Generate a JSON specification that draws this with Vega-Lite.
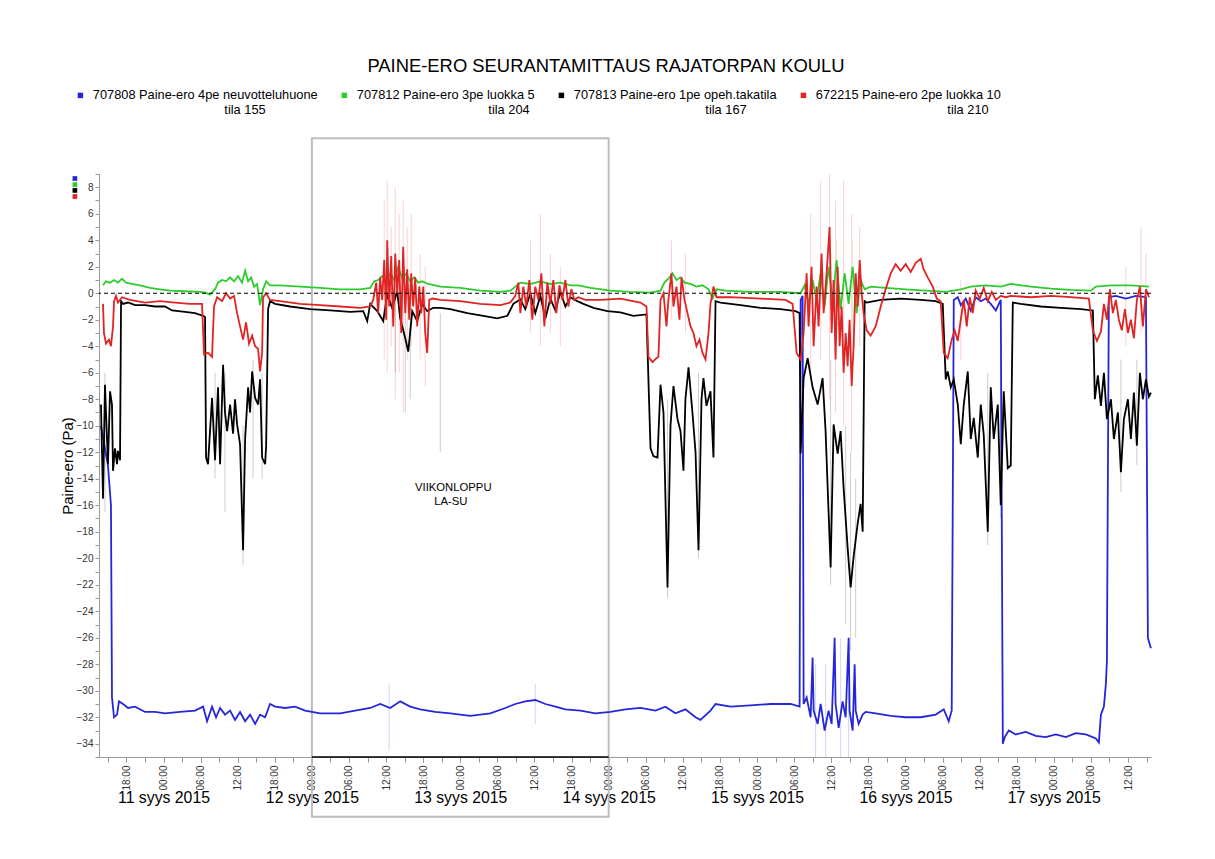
{
"$schema": "https://vega.github.io/schema/vega-lite/v6.json",
"width": 1052, "height": 583,
"autosize": {"type": "none"},
"padding": {"left": 99, "top": 174, "right": 64, "bottom": 102},
"background": "white",
"title": {"text": "PAINE-ERO SEURANTAMITTAUS RAJATORPAN KOULU", "fontSize": 18.4, "fontWeight": "normal", "font": "Liberation Sans", "color": "#000", "anchor": "middle", "dx": -19, "offset": 14},
"config": {"view": {"stroke": null}, "font": "Liberation Sans"},
"datasets": {
"box": [{"t0": "2015-09-12T00:00", "t1": "2015-09-14T00:00", "y0": 11.7, "y1": -39.5, "yb": -35}],
"notes": [{"t": "2015-09-12T22:52", "v": -14.73, "label": "VIIKONLOPPU"}, {"t": "2015-09-12T22:28", "v": -15.76, "label": "LA-SU"}],
"keys": [{"name": "707808 Paine-ero 4pe neuvotteluhuone|\u200b\u00a0\u200b\u00a0\u200b\u00a0\u200b\u00a0\u200b\u00a0\u200b\u00a0\u200b\u00a0\u200b\u00a0\u200b\u00a0\u200b\u00a0\u200b\u00a0\u200b\u00a0\u200b\u00a0\u200b\u00a0\u200b\u00a0\u200b\u00a0\u200b\u00a0\u200b\u00a0\u200b\u00a0\u200b\u00a0\u200b\u00a0\u200b\u00a0\u200b\u00a0\u200b\u00a0\u200b\u00a0\u200b\u00a0\u200b\u00a0\u200b\u00a0\u200b\u00a0\u200b\u00a0\u200b\u00a0\u200b\u00a0\u200b\u00a0\u200b\u00a0\u200b\u00a0\u200b\u00a0\u200b\u00a0tila 155", "t": "2015-09-10T09:40", "v": 8.66}, {"name": "707812 Paine-ero 3pe luokka 5|\u200b\u00a0\u200b\u00a0\u200b\u00a0\u200b\u00a0\u200b\u00a0\u200b\u00a0\u200b\u00a0\u200b\u00a0\u200b\u00a0\u200b\u00a0\u200b\u00a0\u200b\u00a0\u200b\u00a0\u200b\u00a0\u200b\u00a0\u200b\u00a0\u200b\u00a0\u200b\u00a0\u200b\u00a0\u200b\u00a0\u200b\u00a0\u200b\u00a0\u200b\u00a0\u200b\u00a0\u200b\u00a0\u200b\u00a0\u200b\u00a0\u200b\u00a0\u200b\u00a0\u200b\u00a0\u200b\u00a0\u200b\u00a0\u200b\u00a0\u200b\u00a0\u200b\u00a0\u200b\u00a0\u200b\u00a0tila 204", "t": "2015-09-10T09:40", "v": 8.2}, {"name": "707813 Paine-ero 1pe opeh.takatila|\u200b\u00a0\u200b\u00a0\u200b\u00a0\u200b\u00a0\u200b\u00a0\u200b\u00a0\u200b\u00a0\u200b\u00a0\u200b\u00a0\u200b\u00a0\u200b\u00a0\u200b\u00a0\u200b\u00a0\u200b\u00a0\u200b\u00a0\u200b\u00a0\u200b\u00a0\u200b\u00a0\u200b\u00a0\u200b\u00a0\u200b\u00a0\u200b\u00a0\u200b\u00a0\u200b\u00a0\u200b\u00a0\u200b\u00a0\u200b\u00a0\u200b\u00a0\u200b\u00a0\u200b\u00a0\u200b\u00a0\u200b\u00a0\u200b\u00a0\u200b\u00a0\u200b\u00a0\u200b\u00a0\u200b\u00a0tila 167", "t": "2015-09-10T09:40", "v": 7.76}, {"name": "672215 Paine-ero 2pe luokka 10|\u200b\u00a0\u200b\u00a0\u200b\u00a0\u200b\u00a0\u200b\u00a0\u200b\u00a0\u200b\u00a0\u200b\u00a0\u200b\u00a0\u200b\u00a0\u200b\u00a0\u200b\u00a0\u200b\u00a0\u200b\u00a0\u200b\u00a0\u200b\u00a0\u200b\u00a0\u200b\u00a0\u200b\u00a0\u200b\u00a0\u200b\u00a0\u200b\u00a0\u200b\u00a0\u200b\u00a0\u200b\u00a0\u200b\u00a0\u200b\u00a0\u200b\u00a0\u200b\u00a0\u200b\u00a0\u200b\u00a0\u200b\u00a0\u200b\u00a0\u200b\u00a0\u200b\u00a0\u200b\u00a0\u200b\u00a0tila 210", "t": "2015-09-10T09:40", "v": 7.3}],
"spikes": [
{"t":"2015-09-10T14:32","s":"K","lo":-16.5,"hi":-6},{"t":"2015-09-11T08:20","s":"K","lo":-14,"hi":-6},{"t":"2015-09-11T09:57","s":"K","lo":-16.5,"hi":-6},{"t":"2015-09-11T12:52","s":"K","lo":-20.5,"hi":-10},{"t":"2015-09-11T14:29","s":"K","lo":-14,"hi":-5},{"t":"2015-09-11T15:57","s":"K","lo":-14,"hi":-6},{"t":"2015-09-12T13:29","s":"K","lo":-6,"hi":1},{"t":"2015-09-12T15:06","s":"K","lo":-9,"hi":0},{"t":"2015-09-12T15:54","s":"K","lo":-8,"hi":1},{"t":"2015-09-12T20:46","s":"K","lo":-12,"hi":-1.5},{"t":"2015-09-14T09:31","s":"K","lo":-23,"hi":-8},{"t":"2015-09-14T14:32","s":"K","lo":-20,"hi":-6},{"t":"2015-09-15T11:54","s":"K","lo":-22,"hi":-5},{"t":"2015-09-15T14:20","s":"K","lo":-25,"hi":-10},{"t":"2015-09-15T15:08","s":"K","lo":-27,"hi":-12},{"t":"2015-09-15T15:57","s":"K","lo":-26,"hi":-14},{"t":"2015-09-16T13:19","s":"K","lo":-19,"hi":-6},{"t":"2015-09-16T15:25","s":"K","lo":-17,"hi":-5},{"t":"2015-09-17T10:51","s":"K","lo":-15,"hi":-5},{"t":"2015-09-17T13:26","s":"K","lo":-13,"hi":-5},
{"t":"2015-09-12T11:42","s":"R","lo":-5,"hi":7},{"t":"2015-09-12T12:11","s":"R","lo":-6,"hi":8.5},{"t":"2015-09-12T12:50","s":"R","lo":-4,"hi":5},{"t":"2015-09-12T13:29","s":"R","lo":-8,"hi":8},{"t":"2015-09-12T14:07","s":"R","lo":-6,"hi":6},{"t":"2015-09-12T14:46","s":"R","lo":-9,"hi":7},{"t":"2015-09-12T15:25","s":"R","lo":-5,"hi":5},{"t":"2015-09-12T16:04","s":"R","lo":-4,"hi":6},{"t":"2015-09-12T17:31","s":"R","lo":-5,"hi":3},{"t":"2015-09-12T18:20","s":"R","lo":-7,"hi":2},{"t":"2015-09-13T11:20","s":"R","lo":-3,"hi":4},{"t":"2015-09-13T12:57","s":"R","lo":-4,"hi":6},{"t":"2015-09-13T14:34","s":"R","lo":-3,"hi":3},{"t":"2015-09-13T16:11","s":"R","lo":-4,"hi":2},{"t":"2015-09-14T10:09","s":"R","lo":-2,"hi":4},{"t":"2015-09-14T12:25","s":"R","lo":-3,"hi":3},{"t":"2015-09-15T08:40","s":"R","lo":-6,"hi":6},{"t":"2015-09-15T10:17","s":"R","lo":-5,"hi":8.5},{"t":"2015-09-15T11:44","s":"R","lo":-8,"hi":9},{"t":"2015-09-15T12:42","s":"R","lo":-9,"hi":7},{"t":"2015-09-15T14:00","s":"R","lo":-10,"hi":8.5},{"t":"2015-09-15T15:18","s":"R","lo":-12,"hi":6},{"t":"2015-09-15T16:36","s":"R","lo":-4,"hi":5},{"t":"2015-09-16T08:57","s":"R","lo":-5,"hi":1},{"t":"2015-09-17T11:39","s":"R","lo":-4,"hi":2},{"t":"2015-09-17T14:05","s":"R","lo":-3,"hi":5},{"t":"2015-09-17T14:54","s":"R","lo":-4,"hi":3},
{"t":"2015-09-15T12:52","s":"G","lo":-3,"hi":4},{"t":"2015-09-15T15:28","s":"G","lo":-3,"hi":4},
{"t":"2015-09-12T12:30","s":"B","lo":-34.5,"hi":-29.5},{"t":"2015-09-13T12:08","s":"B","lo":-32.5,"hi":-29.5},{"t":"2015-09-15T09:28","s":"B","lo":-35,"hi":-28},{"t":"2015-09-15T11:05","s":"B","lo":-35,"hi":-28},{"t":"2015-09-15T13:31","s":"B","lo":-35,"hi":-26},{"t":"2015-09-15T14:49","s":"B","lo":-35,"hi":-30}
],
"lines": [
{"t":"2015-09-10T13:53","s":"B","v":-10},{"t":"2015-09-10T15:01","s":"B","v":-13},{"t":"2015-09-10T15:30","s":"B","v":-16},{"t":"2015-09-10T15:40","s":"B","v":-30.5},{"t":"2015-09-10T16:00","s":"B","v":-32},{"t":"2015-09-10T16:29","s":"B","v":-31.8},{"t":"2015-09-10T16:48","s":"B","v":-30.8},{"t":"2015-09-10T17:27","s":"B","v":-31},{"t":"2015-09-10T18:16","s":"B","v":-31.3},{"t":"2015-09-10T19:24","s":"B","v":-31.2},{"t":"2015-09-10T21:01","s":"B","v":-31.6},{"t":"2015-09-10T22:38","s":"B","v":-31.6},{"t":"2015-09-11T00:15","s":"B","v":-31.7},{"t":"2015-09-11T02:40","s":"B","v":-31.6},{"t":"2015-09-11T05:06","s":"B","v":-31.5},{"t":"2015-09-11T06:24","s":"B","v":-31.2},{"t":"2015-09-11T07:03","s":"B","v":-32.3},{"t":"2015-09-11T07:51","s":"B","v":-31.2},{"t":"2015-09-11T08:30","s":"B","v":-32},{"t":"2015-09-11T09:09","s":"B","v":-31.3},{"t":"2015-09-11T09:57","s":"B","v":-31.8},{"t":"2015-09-11T10:46","s":"B","v":-31.5},{"t":"2015-09-11T11:34","s":"B","v":-32.2},{"t":"2015-09-11T12:23","s":"B","v":-31.6},{"t":"2015-09-11T13:12","s":"B","v":-32.3},{"t":"2015-09-11T14:00","s":"B","v":-31.8},{"t":"2015-09-11T14:49","s":"B","v":-32.5},{"t":"2015-09-11T15:37","s":"B","v":-31.8},{"t":"2015-09-11T16:26","s":"B","v":-32},{"t":"2015-09-11T17:14","s":"B","v":-31},{"t":"2015-09-11T18:03","s":"B","v":-31.2},{"t":"2015-09-11T19:40","s":"B","v":-31.3},{"t":"2015-09-11T21:17","s":"B","v":-31.2},{"t":"2015-09-11T22:54","s":"B","v":-31.5},{"t":"2015-09-12T01:20","s":"B","v":-31.7},{"t":"2015-09-12T04:34","s":"B","v":-31.7},{"t":"2015-09-12T07:00","s":"B","v":-31.5},{"t":"2015-09-12T09:26","s":"B","v":-31.3},{"t":"2015-09-12T11:03","s":"B","v":-31},{"t":"2015-09-12T12:40","s":"B","v":-31.3},{"t":"2015-09-12T14:17","s":"B","v":-30.8},{"t":"2015-09-12T15:54","s":"B","v":-31.2},{"t":"2015-09-12T17:31","s":"B","v":-31.4},{"t":"2015-09-12T19:57","s":"B","v":-31.6},{"t":"2015-09-12T22:23","s":"B","v":-31.7},{"t":"2015-09-13T01:37","s":"B","v":-31.9},{"t":"2015-09-13T04:51","s":"B","v":-31.7},{"t":"2015-09-13T07:17","s":"B","v":-31.3},{"t":"2015-09-13T08:54","s":"B","v":-31},{"t":"2015-09-13T10:31","s":"B","v":-30.8},{"t":"2015-09-13T12:08","s":"B","v":-30.7},{"t":"2015-09-13T13:46","s":"B","v":-31},{"t":"2015-09-13T15:23","s":"B","v":-31.2},{"t":"2015-09-13T17:00","s":"B","v":-31.4},{"t":"2015-09-13T19:26","s":"B","v":-31.5},{"t":"2015-09-13T21:51","s":"B","v":-31.7},{"t":"2015-09-14T00:17","s":"B","v":-31.6},{"t":"2015-09-14T02:43","s":"B","v":-31.4},{"t":"2015-09-14T05:08","s":"B","v":-31.3},{"t":"2015-09-14T07:34","s":"B","v":-31.5},{"t":"2015-09-14T09:11","s":"B","v":-31.2},{"t":"2015-09-14T10:48","s":"B","v":-31.7},{"t":"2015-09-14T12:25","s":"B","v":-31.4},{"t":"2015-09-14T14:03","s":"B","v":-32},{"t":"2015-09-14T14:51","s":"B","v":-32.2},{"t":"2015-09-14T16:28","s":"B","v":-31.5},{"t":"2015-09-14T17:17","s":"B","v":-31},{"t":"2015-09-14T19:43","s":"B","v":-31.2},{"t":"2015-09-14T22:57","s":"B","v":-31.1},{"t":"2015-09-15T02:11","s":"B","v":-31},{"t":"2015-09-15T05:25","s":"B","v":-31},{"t":"2015-09-15T06:53","s":"B","v":-31.2},{"t":"2015-09-15T07:03","s":"B","v":-0.5},{"t":"2015-09-15T07:22","s":"B","v":-0.2},{"t":"2015-09-15T07:32","s":"B","v":-31},{"t":"2015-09-15T08:01","s":"B","v":-30.5},{"t":"2015-09-15T08:40","s":"B","v":-32},{"t":"2015-09-15T08:59","s":"B","v":-27.5},{"t":"2015-09-15T09:09","s":"B","v":-31.5},{"t":"2015-09-15T09:48","s":"B","v":-32.5},{"t":"2015-09-15T10:17","s":"B","v":-31},{"t":"2015-09-15T10:56","s":"B","v":-33},{"t":"2015-09-15T11:34","s":"B","v":-31.5},{"t":"2015-09-15T12:04","s":"B","v":-32.5},{"t":"2015-09-15T12:33","s":"B","v":-26},{"t":"2015-09-15T12:42","s":"B","v":-31},{"t":"2015-09-15T13:12","s":"B","v":-32.8},{"t":"2015-09-15T13:50","s":"B","v":-30.8},{"t":"2015-09-15T14:20","s":"B","v":-32},{"t":"2015-09-15T14:49","s":"B","v":-26},{"t":"2015-09-15T14:58","s":"B","v":-31.5},{"t":"2015-09-15T15:28","s":"B","v":-33},{"t":"2015-09-15T15:47","s":"B","v":-28},{"t":"2015-09-15T15:57","s":"B","v":-31.5},{"t":"2015-09-15T16:26","s":"B","v":-32.5},{"t":"2015-09-15T17:05","s":"B","v":-31.8},{"t":"2015-09-15T17:34","s":"B","v":-31.6},{"t":"2015-09-15T19:11","s":"B","v":-31.7},{"t":"2015-09-15T21:37","s":"B","v":-31.9},{"t":"2015-09-16T00:02","s":"B","v":-32},{"t":"2015-09-16T02:28","s":"B","v":-32},{"t":"2015-09-16T04:54","s":"B","v":-31.8},{"t":"2015-09-16T06:12","s":"B","v":-31.4},{"t":"2015-09-16T07:00","s":"B","v":-32.3},{"t":"2015-09-16T07:29","s":"B","v":-31.5},{"t":"2015-09-16T07:49","s":"B","v":-0.5},{"t":"2015-09-16T08:28","s":"B","v":-0.3},{"t":"2015-09-16T08:57","s":"B","v":-0.9},{"t":"2015-09-16T09:45","s":"B","v":-0.4},{"t":"2015-09-16T10:34","s":"B","v":-1.3},{"t":"2015-09-16T11:22","s":"B","v":-0.3},{"t":"2015-09-16T12:11","s":"B","v":-0.6},{"t":"2015-09-16T12:59","s":"B","v":-0.4},{"t":"2015-09-16T13:48","s":"B","v":-0.8},{"t":"2015-09-16T14:37","s":"B","v":-1.3},{"t":"2015-09-16T15:25","s":"B","v":-0.5},{"t":"2015-09-16T15:45","s":"B","v":-34},{"t":"2015-09-16T16:04","s":"B","v":-33.5},{"t":"2015-09-16T16:43","s":"B","v":-33},{"t":"2015-09-16T17:51","s":"B","v":-33.3},{"t":"2015-09-16T19:28","s":"B","v":-33.1},{"t":"2015-09-16T21:05","s":"B","v":-33.4},{"t":"2015-09-16T22:42","s":"B","v":-33.5},{"t":"2015-09-17T00:19","s":"B","v":-33.3},{"t":"2015-09-17T01:57","s":"B","v":-33.5},{"t":"2015-09-17T03:34","s":"B","v":-33.2},{"t":"2015-09-17T05:11","s":"B","v":-33.3},{"t":"2015-09-17T06:48","s":"B","v":-33.6},{"t":"2015-09-17T07:17","s":"B","v":-33.9},{"t":"2015-09-17T07:37","s":"B","v":-31.8},{"t":"2015-09-17T08:06","s":"B","v":-31.2},{"t":"2015-09-17T08:25","s":"B","v":-29.5},{"t":"2015-09-17T08:35","s":"B","v":-27.8},{"t":"2015-09-17T08:54","s":"B","v":-0.3},{"t":"2015-09-17T10:02","s":"B","v":-0.2},{"t":"2015-09-17T11:39","s":"B","v":-0.4},{"t":"2015-09-17T13:16","s":"B","v":-0.2},{"t":"2015-09-17T14:54","s":"B","v":-0.3},{"t":"2015-09-17T15:13","s":"B","v":-26},{"t":"2015-09-17T15:42","s":"B","v":-26.8},
{"t":"2015-09-10T13:53","s":"K","v":-8.4},{"t":"2015-09-10T14:13","s":"K","v":-15.5},{"t":"2015-09-10T14:32","s":"K","v":-6.9},{"t":"2015-09-10T14:42","s":"K","v":-9},{"t":"2015-09-10T15:01","s":"K","v":-12.9},{"t":"2015-09-10T15:21","s":"K","v":-7.4},{"t":"2015-09-10T15:40","s":"K","v":-8.4},{"t":"2015-09-10T15:50","s":"K","v":-13.4},{"t":"2015-09-10T16:09","s":"K","v":-11.7},{"t":"2015-09-10T16:29","s":"K","v":-12.9},{"t":"2015-09-10T16:38","s":"K","v":-11.9},{"t":"2015-09-10T16:58","s":"K","v":-12.6},{"t":"2015-09-10T17:08","s":"K","v":-0.6},{"t":"2015-09-10T17:27","s":"K","v":-0.8},{"t":"2015-09-10T18:16","s":"K","v":-0.7},{"t":"2015-09-10T19:24","s":"K","v":-0.9},{"t":"2015-09-10T21:01","s":"K","v":-0.9},{"t":"2015-09-10T22:38","s":"K","v":-1.0},{"t":"2015-09-11T00:15","s":"K","v":-1.0},{"t":"2015-09-11T01:23","s":"K","v":-1.3},{"t":"2015-09-11T03:29","s":"K","v":-1.4},{"t":"2015-09-11T05:06","s":"K","v":-1.5},{"t":"2015-09-11T06:24","s":"K","v":-1.7},{"t":"2015-09-11T06:43","s":"K","v":-1.8},{"t":"2015-09-11T06:53","s":"K","v":-12.4},{"t":"2015-09-11T07:12","s":"K","v":-12.9},{"t":"2015-09-11T07:51","s":"K","v":-7.9},{"t":"2015-09-11T08:20","s":"K","v":-12.6},{"t":"2015-09-11T08:49","s":"K","v":-7.1},{"t":"2015-09-11T09:09","s":"K","v":-12.9},{"t":"2015-09-11T09:38","s":"K","v":-5.4},{"t":"2015-09-11T09:57","s":"K","v":-9},{"t":"2015-09-11T10:17","s":"K","v":-10.4},{"t":"2015-09-11T10:46","s":"K","v":-8.4},{"t":"2015-09-11T11:15","s":"K","v":-10.6},{"t":"2015-09-11T11:34","s":"K","v":-8},{"t":"2015-09-11T11:54","s":"K","v":-9.9},{"t":"2015-09-11T12:23","s":"K","v":-11.4},{"t":"2015-09-11T12:52","s":"K","v":-19.4},{"t":"2015-09-11T13:12","s":"K","v":-11},{"t":"2015-09-11T13:41","s":"K","v":-7.1},{"t":"2015-09-11T14:00","s":"K","v":-9},{"t":"2015-09-11T14:20","s":"K","v":-5.9},{"t":"2015-09-11T14:49","s":"K","v":-7.9},{"t":"2015-09-11T15:18","s":"K","v":-8.4},{"t":"2015-09-11T15:37","s":"K","v":-6.5},{"t":"2015-09-11T15:57","s":"K","v":-12.4},{"t":"2015-09-11T16:26","s":"K","v":-12.9},{"t":"2015-09-11T16:36","s":"K","v":-11.5},{"t":"2015-09-11T16:55","s":"K","v":-1.2},{"t":"2015-09-11T17:14","s":"K","v":-0.6},{"t":"2015-09-11T18:03","s":"K","v":-0.8},{"t":"2015-09-11T20:29","s":"K","v":-1.0},{"t":"2015-09-11T23:43","s":"K","v":-1.2},{"t":"2015-09-12T02:57","s":"K","v":-1.3},{"t":"2015-09-12T06:12","s":"K","v":-1.4},{"t":"2015-09-12T08:18","s":"K","v":-1.35},{"t":"2015-09-12T08:57","s":"K","v":-2.1},{"t":"2015-09-12T09:26","s":"K","v":-0.8},{"t":"2015-09-12T10:34","s":"K","v":-1.35},{"t":"2015-09-12T11:32","s":"K","v":-2.1},{"t":"2015-09-12T12:11","s":"K","v":-0.1},{"t":"2015-09-12T12:59","s":"K","v":-1.1},{"t":"2015-09-12T13:48","s":"K","v":0.15},{"t":"2015-09-12T14:17","s":"K","v":-1.9},{"t":"2015-09-12T15:06","s":"K","v":-3.4},{"t":"2015-09-12T15:35","s":"K","v":-4.4},{"t":"2015-09-12T16:14","s":"K","v":-1.35},{"t":"2015-09-12T17:02","s":"K","v":-2.1},{"t":"2015-09-12T17:51","s":"K","v":-0.8},{"t":"2015-09-12T18:39","s":"K","v":-1.35},{"t":"2015-09-12T19:38","s":"K","v":-1.1},{"t":"2015-09-12T20:46","s":"K","v":-1.1},{"t":"2015-09-12T22:23","s":"K","v":-1.2},{"t":"2015-09-13T01:08","s":"K","v":-1.5},{"t":"2015-09-13T03:43","s":"K","v":-1.7},{"t":"2015-09-13T05:59","s":"K","v":-1.9},{"t":"2015-09-13T07:37","s":"K","v":-1.7},{"t":"2015-09-13T08:35","s":"K","v":-0.8},{"t":"2015-09-13T09:43","s":"K","v":-0.45},{"t":"2015-09-13T10:31","s":"K","v":-1.2},{"t":"2015-09-13T11:20","s":"K","v":0},{"t":"2015-09-13T12:08","s":"K","v":-1.5},{"t":"2015-09-13T12:57","s":"K","v":-0.2},{"t":"2015-09-13T13:46","s":"K","v":-1.9},{"t":"2015-09-13T14:34","s":"K","v":-0.4},{"t":"2015-09-13T15:23","s":"K","v":-1.3},{"t":"2015-09-13T16:11","s":"K","v":0.1},{"t":"2015-09-13T17:00","s":"K","v":-1.0},{"t":"2015-09-13T17:48","s":"K","v":-0.3},{"t":"2015-09-13T18:56","s":"K","v":-0.6},{"t":"2015-09-13T19:55","s":"K","v":-0.8},{"t":"2015-09-13T21:32","s":"K","v":-1.1},{"t":"2015-09-13T23:48","s":"K","v":-1.35},{"t":"2015-09-14T01:54","s":"K","v":-1.45},{"t":"2015-09-14T04:00","s":"K","v":-1.7},{"t":"2015-09-14T06:07","s":"K","v":-1.6},{"t":"2015-09-14T06:46","s":"K","v":-11.7},{"t":"2015-09-14T07:15","s":"K","v":-12.3},{"t":"2015-09-14T07:54","s":"K","v":-12.4},{"t":"2015-09-14T08:23","s":"K","v":-6.9},{"t":"2015-09-14T08:52","s":"K","v":-9},{"t":"2015-09-14T09:31","s":"K","v":-22.2},{"t":"2015-09-14T10:00","s":"K","v":-10},{"t":"2015-09-14T10:29","s":"K","v":-7},{"t":"2015-09-14T11:08","s":"K","v":-9.5},{"t":"2015-09-14T11:37","s":"K","v":-10.4},{"t":"2015-09-14T12:06","s":"K","v":-13.4},{"t":"2015-09-14T12:25","s":"K","v":-8},{"t":"2015-09-14T12:55","s":"K","v":-5.6},{"t":"2015-09-14T13:33","s":"K","v":-9},{"t":"2015-09-14T14:03","s":"K","v":-12},{"t":"2015-09-14T14:32","s":"K","v":-19.4},{"t":"2015-09-14T15:01","s":"K","v":-8},{"t":"2015-09-14T15:20","s":"K","v":-6.4},{"t":"2015-09-14T15:49","s":"K","v":-8.5},{"t":"2015-09-14T16:28","s":"K","v":-7.4},{"t":"2015-09-14T16:57","s":"K","v":-12.4},{"t":"2015-09-14T17:17","s":"K","v":-0.6},{"t":"2015-09-14T18:05","s":"K","v":-0.7},{"t":"2015-09-14T21:20","s":"K","v":-0.9},{"t":"2015-09-15T00:34","s":"K","v":-1.1},{"t":"2015-09-15T03:48","s":"K","v":-1.2},{"t":"2015-09-15T06:14","s":"K","v":-1.35},{"t":"2015-09-15T06:53","s":"K","v":-1.5},{"t":"2015-09-15T07:03","s":"K","v":-12.1},{"t":"2015-09-15T07:32","s":"K","v":-6.4},{"t":"2015-09-15T08:11","s":"K","v":-4.9},{"t":"2015-09-15T08:59","s":"K","v":-7.1},{"t":"2015-09-15T09:48","s":"K","v":-8.4},{"t":"2015-09-15T10:36","s":"K","v":-6.4},{"t":"2015-09-15T11:05","s":"K","v":-10.4},{"t":"2015-09-15T11:54","s":"K","v":-20.7},{"t":"2015-09-15T12:23","s":"K","v":-9.9},{"t":"2015-09-15T13:02","s":"K","v":-12.1},{"t":"2015-09-15T13:31","s":"K","v":-10.4},{"t":"2015-09-15T14:00","s":"K","v":-14.7},{"t":"2015-09-15T14:39","s":"K","v":-19.2},{"t":"2015-09-15T15:08","s":"K","v":-22.2},{"t":"2015-09-15T15:37","s":"K","v":-19.9},{"t":"2015-09-15T16:16","s":"K","v":-17.4},{"t":"2015-09-15T16:45","s":"K","v":-15.9},{"t":"2015-09-15T17:05","s":"K","v":-18},{"t":"2015-09-15T17:24","s":"K","v":-0.6},{"t":"2015-09-15T17:44","s":"K","v":-0.7},{"t":"2015-09-15T20:00","s":"K","v":-0.5},{"t":"2015-09-15T23:14","s":"K","v":-0.4},{"t":"2015-09-16T02:28","s":"K","v":-0.5},{"t":"2015-09-16T04:54","s":"K","v":-0.6},{"t":"2015-09-16T06:02","s":"K","v":-0.8},{"t":"2015-09-16T06:31","s":"K","v":-6.5},{"t":"2015-09-16T06:50","s":"K","v":-5.9},{"t":"2015-09-16T07:20","s":"K","v":-7.1},{"t":"2015-09-16T07:49","s":"K","v":-6.5},{"t":"2015-09-16T08:28","s":"K","v":-8.4},{"t":"2015-09-16T08:57","s":"K","v":-11.4},{"t":"2015-09-16T09:26","s":"K","v":-8.4},{"t":"2015-09-16T10:05","s":"K","v":-5.9},{"t":"2015-09-16T10:34","s":"K","v":-11},{"t":"2015-09-16T11:03","s":"K","v":-9.4},{"t":"2015-09-16T11:42","s":"K","v":-12.4},{"t":"2015-09-16T12:11","s":"K","v":-8.4},{"t":"2015-09-16T12:40","s":"K","v":-10.7},{"t":"2015-09-16T13:19","s":"K","v":-18},{"t":"2015-09-16T13:48","s":"K","v":-7.1},{"t":"2015-09-16T14:17","s":"K","v":-11},{"t":"2015-09-16T14:56","s":"K","v":-8.4},{"t":"2015-09-16T15:25","s":"K","v":-16},{"t":"2015-09-16T15:54","s":"K","v":-7.4},{"t":"2015-09-16T16:33","s":"K","v":-13.2},{"t":"2015-09-16T17:02","s":"K","v":-13},{"t":"2015-09-16T17:22","s":"K","v":-0.7},{"t":"2015-09-16T18:39","s":"K","v":-0.8},{"t":"2015-09-16T21:54","s":"K","v":-1.0},{"t":"2015-09-17T01:08","s":"K","v":-1.1},{"t":"2015-09-17T04:22","s":"K","v":-1.2},{"t":"2015-09-17T06:19","s":"K","v":-1.3},{"t":"2015-09-17T06:38","s":"K","v":-8},{"t":"2015-09-17T07:07","s":"K","v":-6.2},{"t":"2015-09-17T07:37","s":"K","v":-8.5},{"t":"2015-09-17T08:06","s":"K","v":-6},{"t":"2015-09-17T08:35","s":"K","v":-9.5},{"t":"2015-09-17T09:14","s":"K","v":-8},{"t":"2015-09-17T09:43","s":"K","v":-11},{"t":"2015-09-17T10:22","s":"K","v":-9},{"t":"2015-09-17T10:51","s":"K","v":-13.5},{"t":"2015-09-17T11:20","s":"K","v":-9.5},{"t":"2015-09-17T11:59","s":"K","v":-8},{"t":"2015-09-17T12:28","s":"K","v":-11},{"t":"2015-09-17T12:57","s":"K","v":-7.5},{"t":"2015-09-17T13:26","s":"K","v":-11.5},{"t":"2015-09-17T13:55","s":"K","v":-6},{"t":"2015-09-17T14:24","s":"K","v":-8},{"t":"2015-09-17T14:54","s":"K","v":-6.5},{"t":"2015-09-17T15:23","s":"K","v":-7.8},{"t":"2015-09-17T15:42","s":"K","v":-7.5},
{"t":"2015-09-10T14:13","s":"G","v":0.6},{"t":"2015-09-10T14:42","s":"G","v":0.9},{"t":"2015-09-10T15:21","s":"G","v":0.8},{"t":"2015-09-10T16:00","s":"G","v":1.0},{"t":"2015-09-10T16:38","s":"G","v":0.8},{"t":"2015-09-10T17:17","s":"G","v":1.1},{"t":"2015-09-10T17:56","s":"G","v":0.8},{"t":"2015-09-10T18:54","s":"G","v":0.7},{"t":"2015-09-10T20:12","s":"G","v":0.6},{"t":"2015-09-10T21:49","s":"G","v":0.4},{"t":"2015-09-10T23:26","s":"G","v":0.3},{"t":"2015-09-11T01:03","s":"G","v":0.2},{"t":"2015-09-11T03:29","s":"G","v":0.15},{"t":"2015-09-11T05:55","s":"G","v":0.1},{"t":"2015-09-11T06:43","s":"G","v":0.05},{"t":"2015-09-11T07:32","s":"G","v":-0.1},{"t":"2015-09-11T08:20","s":"G","v":0.3},{"t":"2015-09-11T08:49","s":"G","v":0.8},{"t":"2015-09-11T09:28","s":"G","v":1.0},{"t":"2015-09-11T10:07","s":"G","v":0.9},{"t":"2015-09-11T10:46","s":"G","v":1.2},{"t":"2015-09-11T11:25","s":"G","v":0.9},{"t":"2015-09-11T12:04","s":"G","v":1.3},{"t":"2015-09-11T12:42","s":"G","v":0.8},{"t":"2015-09-11T13:12","s":"G","v":1.7},{"t":"2015-09-11T13:41","s":"G","v":0.9},{"t":"2015-09-11T14:10","s":"G","v":1.2},{"t":"2015-09-11T14:39","s":"G","v":0.5},{"t":"2015-09-11T15:08","s":"G","v":0.7},{"t":"2015-09-11T15:37","s":"G","v":-0.9},{"t":"2015-09-11T16:06","s":"G","v":0.3},{"t":"2015-09-11T16:36","s":"G","v":0.9},{"t":"2015-09-11T17:14","s":"G","v":0.6},{"t":"2015-09-11T18:52","s":"G","v":0.6},{"t":"2015-09-11T22:06","s":"G","v":0.5},{"t":"2015-09-12T01:20","s":"G","v":0.4},{"t":"2015-09-12T04:34","s":"G","v":0.3},{"t":"2015-09-12T07:49","s":"G","v":0.3},{"t":"2015-09-12T09:26","s":"G","v":0.4},{"t":"2015-09-12T10:05","s":"G","v":0.9},{"t":"2015-09-12T10:43","s":"G","v":1.0},{"t":"2015-09-12T11:22","s":"G","v":1.3},{"t":"2015-09-12T12:01","s":"G","v":0.9},{"t":"2015-09-12T12:40","s":"G","v":1.5},{"t":"2015-09-12T13:19","s":"G","v":1.0},{"t":"2015-09-12T13:58","s":"G","v":2.0},{"t":"2015-09-12T14:37","s":"G","v":1.1},{"t":"2015-09-12T15:15","s":"G","v":1.5},{"t":"2015-09-12T15:54","s":"G","v":0.9},{"t":"2015-09-12T16:33","s":"G","v":1.2},{"t":"2015-09-12T17:12","s":"G","v":0.8},{"t":"2015-09-12T17:51","s":"G","v":0.9},{"t":"2015-09-12T18:49","s":"G","v":0.7},{"t":"2015-09-12T20:46","s":"G","v":0.5},{"t":"2015-09-13T00:00","s":"G","v":0.4},{"t":"2015-09-13T03:14","s":"G","v":0.2},{"t":"2015-09-13T06:29","s":"G","v":0.1},{"t":"2015-09-13T08:06","s":"G","v":0.2},{"t":"2015-09-13T08:54","s":"G","v":0.5},{"t":"2015-09-13T09:43","s":"G","v":0.8},{"t":"2015-09-13T11:20","s":"G","v":0.7},{"t":"2015-09-13T12:57","s":"G","v":0.9},{"t":"2015-09-13T14:34","s":"G","v":0.7},{"t":"2015-09-13T16:11","s":"G","v":0.8},{"t":"2015-09-13T17:48","s":"G","v":0.6},{"t":"2015-09-13T19:06","s":"G","v":0.6},{"t":"2015-09-13T21:03","s":"G","v":0.4},{"t":"2015-09-14T00:17","s":"G","v":0.2},{"t":"2015-09-14T03:31","s":"G","v":0.1},{"t":"2015-09-14T06:46","s":"G","v":0.05},{"t":"2015-09-14T08:23","s":"G","v":0.2},{"t":"2015-09-14T09:01","s":"G","v":0.8},{"t":"2015-09-14T09:40","s":"G","v":1.1},{"t":"2015-09-14T10:19","s":"G","v":1.5},{"t":"2015-09-14T10:58","s":"G","v":1.0},{"t":"2015-09-14T11:37","s":"G","v":1.2},{"t":"2015-09-14T12:16","s":"G","v":0.8},{"t":"2015-09-14T13:14","s":"G","v":0.7},{"t":"2015-09-14T14:12","s":"G","v":0.5},{"t":"2015-09-14T15:11","s":"G","v":0.6},{"t":"2015-09-14T16:09","s":"G","v":0.3},{"t":"2015-09-14T16:48","s":"G","v":-0.4},{"t":"2015-09-14T17:27","s":"G","v":0.3},{"t":"2015-09-14T18:54","s":"G","v":0.2},{"t":"2015-09-14T22:57","s":"G","v":0.1},{"t":"2015-09-15T03:48","s":"G","v":0.1},{"t":"2015-09-15T07:03","s":"G","v":0},{"t":"2015-09-15T07:41","s":"G","v":0.6},{"t":"2015-09-15T08:20","s":"G","v":-0.8},{"t":"2015-09-15T08:59","s":"G","v":1},{"t":"2015-09-15T09:38","s":"G","v":-0.5},{"t":"2015-09-15T10:17","s":"G","v":1.5},{"t":"2015-09-15T10:56","s":"G","v":-1},{"t":"2015-09-15T11:34","s":"G","v":2},{"t":"2015-09-15T12:13","s":"G","v":-0.6},{"t":"2015-09-15T12:52","s":"G","v":2.5},{"t":"2015-09-15T13:31","s":"G","v":-1.2},{"t":"2015-09-15T14:10","s":"G","v":1.5},{"t":"2015-09-15T14:49","s":"G","v":-0.8},{"t":"2015-09-15T15:28","s":"G","v":2},{"t":"2015-09-15T16:06","s":"G","v":-1.5},{"t":"2015-09-15T16:45","s":"G","v":1},{"t":"2015-09-15T17:24","s":"G","v":0.3},{"t":"2015-09-15T18:22","s":"G","v":0.5},{"t":"2015-09-15T20:48","s":"G","v":0.4},{"t":"2015-09-16T00:02","s":"G","v":0.3},{"t":"2015-09-16T03:17","s":"G","v":0.2},{"t":"2015-09-16T06:31","s":"G","v":0.1},{"t":"2015-09-16T08:57","s":"G","v":0.3},{"t":"2015-09-16T10:34","s":"G","v":0.5},{"t":"2015-09-16T12:59","s":"G","v":0.6},{"t":"2015-09-16T15:25","s":"G","v":0.5},{"t":"2015-09-16T17:02","s":"G","v":0.7},{"t":"2015-09-16T20:17","s":"G","v":0.5},{"t":"2015-09-16T23:31","s":"G","v":0.35},{"t":"2015-09-17T02:45","s":"G","v":0.25},{"t":"2015-09-17T05:59","s":"G","v":0.2},{"t":"2015-09-17T06:48","s":"G","v":0.5},{"t":"2015-09-17T09:14","s":"G","v":0.6},{"t":"2015-09-17T12:28","s":"G","v":0.6},{"t":"2015-09-17T15:23","s":"G","v":0.5},
{"t":"2015-09-10T14:13","s":"R","v":-0.8},{"t":"2015-09-10T14:22","s":"R","v":-3},{"t":"2015-09-10T14:42","s":"R","v":-3.8},{"t":"2015-09-10T15:11","s":"R","v":-3.5},{"t":"2015-09-10T15:30","s":"R","v":-4},{"t":"2015-09-10T15:50","s":"R","v":-2.5},{"t":"2015-09-10T16:00","s":"R","v":-0.6},{"t":"2015-09-10T16:19","s":"R","v":-0.2},{"t":"2015-09-10T16:38","s":"R","v":-0.7},{"t":"2015-09-10T17:17","s":"R","v":-0.3},{"t":"2015-09-10T18:35","s":"R","v":-0.5},{"t":"2015-09-10T21:01","s":"R","v":-0.7},{"t":"2015-09-10T23:26","s":"R","v":-0.6},{"t":"2015-09-11T01:52","s":"R","v":-0.7},{"t":"2015-09-11T04:17","s":"R","v":-0.8},{"t":"2015-09-11T06:14","s":"R","v":-0.8},{"t":"2015-09-11T06:33","s":"R","v":-4.6},{"t":"2015-09-11T07:12","s":"R","v":-4.5},{"t":"2015-09-11T07:51","s":"R","v":-4.8},{"t":"2015-09-11T08:10","s":"R","v":-1},{"t":"2015-09-11T08:40","s":"R","v":-0.3},{"t":"2015-09-11T09:28","s":"R","v":-0.6},{"t":"2015-09-11T10:07","s":"R","v":0},{"t":"2015-09-11T10:46","s":"R","v":-0.4},{"t":"2015-09-11T11:25","s":"R","v":-0.2},{"t":"2015-09-11T11:54","s":"R","v":-1.5},{"t":"2015-09-11T12:23","s":"R","v":-2.5},{"t":"2015-09-11T12:52","s":"R","v":-3.5},{"t":"2015-09-11T13:21","s":"R","v":-2.2},{"t":"2015-09-11T13:50","s":"R","v":-3.8},{"t":"2015-09-11T14:20","s":"R","v":-3.2},{"t":"2015-09-11T14:49","s":"R","v":-4},{"t":"2015-09-11T15:18","s":"R","v":-4.2},{"t":"2015-09-11T15:37","s":"R","v":-5.9},{"t":"2015-09-11T15:57","s":"R","v":-4.5},{"t":"2015-09-11T16:06","s":"R","v":-0.3},{"t":"2015-09-11T16:36","s":"R","v":0},{"t":"2015-09-11T17:14","s":"R","v":-0.5},{"t":"2015-09-11T18:52","s":"R","v":-0.6},{"t":"2015-09-11T22:06","s":"R","v":-0.8},{"t":"2015-09-12T01:20","s":"R","v":-0.9},{"t":"2015-09-12T04:34","s":"R","v":-1.0},{"t":"2015-09-12T07:49","s":"R","v":-1.1},{"t":"2015-09-12T09:26","s":"R","v":-1.0},{"t":"2015-09-12T09:55","s":"R","v":-0.5},{"t":"2015-09-12T10:24","s":"R","v":0.8},{"t":"2015-09-12T10:43","s":"R","v":-1.5},{"t":"2015-09-12T11:03","s":"R","v":1.2},{"t":"2015-09-12T11:22","s":"R","v":-0.5},{"t":"2015-09-12T11:42","s":"R","v":2.5},{"t":"2015-09-12T12:01","s":"R","v":-2},{"t":"2015-09-12T12:11","s":"R","v":4},{"t":"2015-09-12T12:30","s":"R","v":-1},{"t":"2015-09-12T12:50","s":"R","v":2.8},{"t":"2015-09-12T13:09","s":"R","v":-2.5},{"t":"2015-09-12T13:29","s":"R","v":3},{"t":"2015-09-12T13:48","s":"R","v":0},{"t":"2015-09-12T14:07","s":"R","v":2.5},{"t":"2015-09-12T14:27","s":"R","v":-3},{"t":"2015-09-12T14:46","s":"R","v":3.5},{"t":"2015-09-12T15:06","s":"R","v":-1.5},{"t":"2015-09-12T15:25","s":"R","v":1.8},{"t":"2015-09-12T15:45","s":"R","v":-2},{"t":"2015-09-12T16:04","s":"R","v":1.5},{"t":"2015-09-12T16:23","s":"R","v":-1},{"t":"2015-09-12T16:43","s":"R","v":1.2},{"t":"2015-09-12T17:02","s":"R","v":-2.5},{"t":"2015-09-12T17:22","s":"R","v":0.5},{"t":"2015-09-12T17:41","s":"R","v":-1.5},{"t":"2015-09-12T18:01","s":"R","v":0.5},{"t":"2015-09-12T18:20","s":"R","v":-3},{"t":"2015-09-12T18:39","s":"R","v":-4.5},{"t":"2015-09-12T18:59","s":"R","v":-0.5},{"t":"2015-09-12T19:28","s":"R","v":-0.4},{"t":"2015-09-12T20:46","s":"R","v":-0.5},{"t":"2015-09-13T00:00","s":"R","v":-0.6},{"t":"2015-09-13T03:14","s":"R","v":-0.8},{"t":"2015-09-13T06:29","s":"R","v":-0.9},{"t":"2015-09-13T08:06","s":"R","v":-0.7},{"t":"2015-09-13T08:54","s":"R","v":-0.2},{"t":"2015-09-13T09:23","s":"R","v":0.8},{"t":"2015-09-13T09:43","s":"R","v":-1.5},{"t":"2015-09-13T10:12","s":"R","v":0.5},{"t":"2015-09-13T10:41","s":"R","v":-1},{"t":"2015-09-13T11:10","s":"R","v":1},{"t":"2015-09-13T11:39","s":"R","v":-2},{"t":"2015-09-13T12:08","s":"R","v":0.5},{"t":"2015-09-13T12:38","s":"R","v":-0.5},{"t":"2015-09-13T13:07","s":"R","v":1.5},{"t":"2015-09-13T13:36","s":"R","v":-2.5},{"t":"2015-09-13T14:05","s":"R","v":0.8},{"t":"2015-09-13T14:34","s":"R","v":-0.8},{"t":"2015-09-13T15:03","s":"R","v":1},{"t":"2015-09-13T15:32","s":"R","v":-1.5},{"t":"2015-09-13T16:02","s":"R","v":0.6},{"t":"2015-09-13T16:31","s":"R","v":-0.5},{"t":"2015-09-13T17:00","s":"R","v":1},{"t":"2015-09-13T17:29","s":"R","v":-1},{"t":"2015-09-13T17:58","s":"R","v":0.3},{"t":"2015-09-13T18:27","s":"R","v":-0.5},{"t":"2015-09-13T19:06","s":"R","v":-0.3},{"t":"2015-09-13T20:14","s":"R","v":-0.5},{"t":"2015-09-13T22:40","s":"R","v":-0.5},{"t":"2015-09-14T01:54","s":"R","v":-0.4},{"t":"2015-09-14T05:08","s":"R","v":-0.7},{"t":"2015-09-14T06:07","s":"R","v":-1},{"t":"2015-09-14T06:26","s":"R","v":-4.8},{"t":"2015-09-14T07:05","s":"R","v":-5.2},{"t":"2015-09-14T07:44","s":"R","v":-4.9},{"t":"2015-09-14T08:03","s":"R","v":-4.8},{"t":"2015-09-14T08:23","s":"R","v":-0.5},{"t":"2015-09-14T08:52","s":"R","v":0},{"t":"2015-09-14T09:21","s":"R","v":-2.5},{"t":"2015-09-14T09:40","s":"R","v":-0.5},{"t":"2015-09-14T10:09","s":"R","v":1.5},{"t":"2015-09-14T10:29","s":"R","v":-1},{"t":"2015-09-14T10:58","s":"R","v":0.5},{"t":"2015-09-14T11:27","s":"R","v":-2},{"t":"2015-09-14T11:47","s":"R","v":1.2},{"t":"2015-09-14T12:16","s":"R","v":-0.5},{"t":"2015-09-14T12:45","s":"R","v":-1.5},{"t":"2015-09-14T13:14","s":"R","v":-2.5},{"t":"2015-09-14T13:43","s":"R","v":-3},{"t":"2015-09-14T14:12","s":"R","v":-4},{"t":"2015-09-14T14:41","s":"R","v":-3.5},{"t":"2015-09-14T15:11","s":"R","v":-4.5},{"t":"2015-09-14T15:40","s":"R","v":-5},{"t":"2015-09-14T16:09","s":"R","v":-3},{"t":"2015-09-14T16:28","s":"R","v":-0.8},{"t":"2015-09-14T16:57","s":"R","v":0.5},{"t":"2015-09-14T17:27","s":"R","v":-0.3},{"t":"2015-09-14T19:43","s":"R","v":-0.3},{"t":"2015-09-15T00:34","s":"R","v":-0.4},{"t":"2015-09-15T04:37","s":"R","v":-0.5},{"t":"2015-09-15T05:45","s":"R","v":-0.8},{"t":"2015-09-15T06:24","s":"R","v":-4.5},{"t":"2015-09-15T07:03","s":"R","v":-5},{"t":"2015-09-15T07:32","s":"R","v":-3},{"t":"2015-09-15T08:01","s":"R","v":1.5},{"t":"2015-09-15T08:20","s":"R","v":-2.5},{"t":"2015-09-15T08:49","s":"R","v":2},{"t":"2015-09-15T09:09","s":"R","v":-4},{"t":"2015-09-15T09:38","s":"R","v":0.5},{"t":"2015-09-15T09:57","s":"R","v":-2.5},{"t":"2015-09-15T10:26","s":"R","v":3},{"t":"2015-09-15T10:46","s":"R","v":-1.5},{"t":"2015-09-15T11:15","s":"R","v":1.5},{"t":"2015-09-15T11:44","s":"R","v":5},{"t":"2015-09-15T12:04","s":"R","v":-3},{"t":"2015-09-15T12:23","s":"R","v":1},{"t":"2015-09-15T12:42","s":"R","v":-5},{"t":"2015-09-15T13:02","s":"R","v":2},{"t":"2015-09-15T13:21","s":"R","v":-4},{"t":"2015-09-15T13:41","s":"R","v":-1},{"t":"2015-09-15T14:00","s":"R","v":-6},{"t":"2015-09-15T14:20","s":"R","v":-3},{"t":"2015-09-15T14:39","s":"R","v":-5.5},{"t":"2015-09-15T14:58","s":"R","v":-2},{"t":"2015-09-15T15:18","s":"R","v":-7},{"t":"2015-09-15T15:37","s":"R","v":-4},{"t":"2015-09-15T15:57","s":"R","v":1.5},{"t":"2015-09-15T16:16","s":"R","v":-1},{"t":"2015-09-15T16:36","s":"R","v":2.5},{"t":"2015-09-15T16:55","s":"R","v":0},{"t":"2015-09-15T17:14","s":"R","v":-1.5},{"t":"2015-09-15T17:44","s":"R","v":-2.8},{"t":"2015-09-15T18:22","s":"R","v":-3.2},{"t":"2015-09-15T19:11","s":"R","v":-2.5},{"t":"2015-09-15T20:00","s":"R","v":-1},{"t":"2015-09-15T20:48","s":"R","v":0.3},{"t":"2015-09-15T21:37","s":"R","v":1.5},{"t":"2015-09-15T22:25","s":"R","v":2.2},{"t":"2015-09-15T23:14","s":"R","v":1.7},{"t":"2015-09-16T00:02","s":"R","v":2.2},{"t":"2015-09-16T00:51","s":"R","v":1.6},{"t":"2015-09-16T01:40","s":"R","v":2.3},{"t":"2015-09-16T02:28","s":"R","v":2.6},{"t":"2015-09-16T02:57","s":"R","v":1.8},{"t":"2015-09-16T03:36","s":"R","v":1.2},{"t":"2015-09-16T04:25","s":"R","v":0.5},{"t":"2015-09-16T05:04","s":"R","v":-0.4},{"t":"2015-09-16T05:42","s":"R","v":-0.6},{"t":"2015-09-16T06:12","s":"R","v":-4.5},{"t":"2015-09-16T06:50","s":"R","v":-4.9},{"t":"2015-09-16T07:29","s":"R","v":-3.5},{"t":"2015-09-16T07:58","s":"R","v":-2.8},{"t":"2015-09-16T08:28","s":"R","v":-3.6},{"t":"2015-09-16T08:57","s":"R","v":-2},{"t":"2015-09-16T09:26","s":"R","v":-0.5},{"t":"2015-09-16T09:55","s":"R","v":-2.5},{"t":"2015-09-16T10:24","s":"R","v":-0.3},{"t":"2015-09-16T10:53","s":"R","v":-1.5},{"t":"2015-09-16T11:22","s":"R","v":0.2},{"t":"2015-09-16T12:01","s":"R","v":-0.4},{"t":"2015-09-16T12:40","s":"R","v":0.4},{"t":"2015-09-16T13:19","s":"R","v":-0.6},{"t":"2015-09-16T13:58","s":"R","v":0.1},{"t":"2015-09-16T14:37","s":"R","v":-0.5},{"t":"2015-09-16T15:25","s":"R","v":-0.2},{"t":"2015-09-16T16:14","s":"R","v":-0.3},{"t":"2015-09-16T17:02","s":"R","v":-0.2},{"t":"2015-09-16T20:17","s":"R","v":-0.3},{"t":"2015-09-16T23:31","s":"R","v":-0.2},{"t":"2015-09-17T02:45","s":"R","v":-0.3},{"t":"2015-09-17T05:40","s":"R","v":-0.4},{"t":"2015-09-17T06:19","s":"R","v":-2.8},{"t":"2015-09-17T06:58","s":"R","v":-3.6},{"t":"2015-09-17T07:37","s":"R","v":-2.9},{"t":"2015-09-17T08:06","s":"R","v":-0.8},{"t":"2015-09-17T08:35","s":"R","v":-2},{"t":"2015-09-17T09:04","s":"R","v":0.3},{"t":"2015-09-17T09:33","s":"R","v":-1.5},{"t":"2015-09-17T10:02","s":"R","v":-0.5},{"t":"2015-09-17T10:31","s":"R","v":-2},{"t":"2015-09-17T11:00","s":"R","v":-2.8},{"t":"2015-09-17T11:30","s":"R","v":-1.2},{"t":"2015-09-17T11:59","s":"R","v":-3},{"t":"2015-09-17T12:28","s":"R","v":-2},{"t":"2015-09-17T12:57","s":"R","v":-3.4},{"t":"2015-09-17T13:26","s":"R","v":-0.5},{"t":"2015-09-17T13:55","s":"R","v":0.5},{"t":"2015-09-17T14:24","s":"R","v":-2.5},{"t":"2015-09-17T14:54","s":"R","v":0.3},{"t":"2015-09-17T15:23","s":"R","v":-0.3}
]
},
"resolve": {"axis": {"x": "independent", "y": "independent"}, "scale": {"color": "independent"}},
"layer": [
{"data": {"name": "box"},
 "mark": {"type": "rect", "filled": false, "stroke": "#bdbdbd", "strokeWidth": 2},
 "encoding": {
  "x": {"field": "t0", "type": "temporal",
   "scale": {"domain": [{"year": 2015, "month": 9, "date": 10, "hours": 13, "minutes": 34}, {"year": 2015, "month": 9, "date": 17, "hours": 15, "minutes": 43}], "nice": false},
   "axis": {"orient": "bottom", "title": null, "tickCount": {"interval": "day", "step": 1}, "labelExpr": "date(datum.value) + ' syys 2015'", "domain": false, "ticks": false, "tickSize": 0, "grid": false, "labelPadding": 33, "labelFontSize": 15.8, "labelColor": "#000", "labelOverlap": false, "labelFlush": false, "labelBound": false}},
  "x2": {"field": "t1"},
  "y": {"field": "y0", "type": "quantitative", "scale": {"domain": [-35, 9], "nice": false, "zero": false}, "axis": null},
  "y2": {"field": "y1"}}},
{"data": {"name": "spikes"},
 "mark": {"type": "rule", "strokeWidth": 1, "opacity": 0.2},
 "encoding": {
  "x": {"field": "t", "type": "temporal", "axis": {"orient": "bottom", "title": null, "grid": false, "tickCount": 57, "labels": false, "domain": false, "tickSize": 5, "tickColor": "#999"}},
  "y": {"field": "lo", "type": "quantitative", "axis": {"orient": "left", "title": null, "grid": false, "values": [-35,-33,-31,-29,-27,-25,-23,-21,-19,-17,-15,-13,-11,-9,-7,-5,-3,-1,1,3,5,7,9], "labels": false, "domain": false, "tickSize": 4, "tickColor": "#999"}},
  "y2": {"field": "hi"},
  "color": {"field": "s", "type": "nominal", "scale": {"domain": ["B", "G", "K", "R"], "range": ["#2626d9", "#2ecb2e", "#000000", "#e02424"]}, "legend": null}}},
{"data": {"name": "lines"},
 "mark": {"type": "line", "strokeWidth": 1.8},
 "encoding": {
  "x": {"field": "t", "type": "temporal", "axis": {"orient": "bottom", "title": null, "grid": false, "format": "%H:%M", "labelAngle": 270, "labelFontSize": 10, "labelColor": "#333", "tickColor": "#999", "domainColor": "#999", "tickSize": 5, "labelPadding": 3}},
  "y": {"field": "v", "type": "quantitative", "axis": {"orient": "left", "title": "Paine-ero (Pa)", "grid": false, "values": [-34,-32,-30,-28,-26,-24,-22,-20,-18,-16,-14,-12,-10,-8,-6,-4,-2,0,2,4,6,8], "labelOverlap": false, "labelFontSize": 10, "labelColor": "#333", "tickColor": "#999", "domainColor": "#999", "tickSize": 4, "labelPadding": 2, "titleFontSize": 15, "titleFontWeight": "normal", "titleColor": "#000", "titlePadding": 1}},
  "color": {"field": "s", "type": "nominal", "scale": {"domain": ["B", "G", "K", "R"], "range": ["#2626d9", "#2ecb2e", "#000000", "#e02424"]}, "legend": null}}},
{"data": {"values": [{"z": 0}]},
 "mark": {"type": "rule", "color": "#000", "strokeWidth": 1, "strokeDash": [4, 3]},
 "encoding": {"y": {"field": "z", "type": "quantitative", "axis": null}}},
{"data": {"name": "box"},
 "mark": {"type": "rule", "color": "#000", "strokeWidth": 1.5},
 "encoding": {
  "x": {"field": "t0", "type": "temporal", "axis": null},
  "x2": {"field": "t1"},
  "y": {"field": "yb", "type": "quantitative", "axis": null}}},
{"data": {"name": "keys"},
 "mark": {"type": "point", "shape": "square", "filled": true, "size": 22, "opacity": 1},
 "encoding": {
  "x": {"field": "t", "type": "temporal", "axis": null},
  "y": {"field": "v", "type": "quantitative", "axis": null},
  "color": {"field": "name", "type": "nominal",
   "scale": {"range": ["#2626d9", "#2ecb2e", "#000000", "#e02424"]},
   "sort": null,
   "legend": {"orient": "none", "legendX": -25, "legendY": -85, "direction": "horizontal", "columns": 4, "title": null, "symbolType": "square", "symbolSize": 30, "labelFontSize": 12.8, "labelColor": "#000", "labelLimit": 0, "labelOffset": 6, "columnPadding": 20, "labelExpr": "split(datum.label, '|')"}}}},
{"data": {"name": "notes"},
 "mark": {"type": "text", "fontSize": 11.3, "align": "center", "baseline": "middle", "color": "#000"},
 "encoding": {
  "x": {"field": "t", "type": "temporal", "axis": null},
  "y": {"field": "v", "type": "quantitative", "axis": null},
  "text": {"field": "label"}}}
]
}
